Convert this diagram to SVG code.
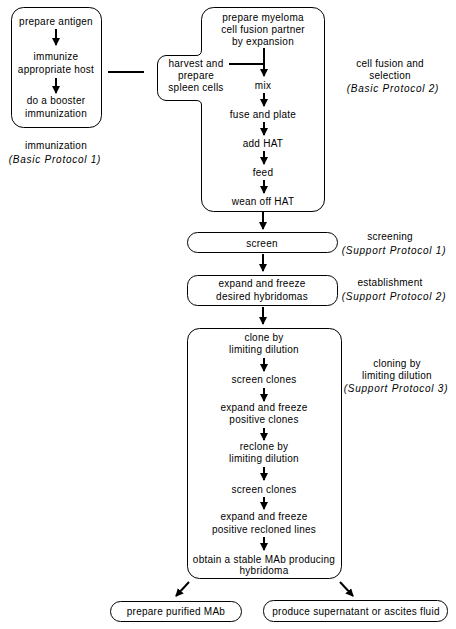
<svg xmlns="http://www.w3.org/2000/svg" width="456" height="629" viewBox="0 0 456 629">
<style>
.box{fill:none;stroke:#000;stroke-width:1}
.t{font-family:"Liberation Sans",Arial,sans-serif;font-size:10px;fill:#000;text-anchor:middle;letter-spacing:0.25px}
.i{font-family:"Liberation Sans",Arial,sans-serif;font-size:10px;fill:#000;text-anchor:middle;font-style:italic;letter-spacing:0.75px}
.c{fill:none;stroke:#000;stroke-width:2}
</style>
<defs>
<marker id="ah" viewBox="0 0 8 8" markerWidth="8" markerHeight="8" markerUnits="userSpaceOnUse" refX="7" refY="4" orient="auto">
<path d="M0,0 L8,4 L0,8 z" fill="#000"/>
</marker>
</defs>
<rect width="456" height="629" fill="#fff"/>

<g id="immunization">
<rect class="box" x="11.5" y="7.5" width="90" height="120" rx="12"/>
<text class="t" x="56" y="25">prepare antigen</text>
<text class="t" x="56" y="60">immunize</text>
<text class="t" x="56" y="73">appropriate host</text>
<text class="t" x="56" y="104">do a booster</text>
<text class="t" x="56" y="117">immunization</text>
</g>
<g id="immunization-label">
<text class="t" x="56" y="149">immunization</text>
<text class="i" x="55" y="163">(Basic Protocol 1)</text>
</g>

<g id="fusion">
<path class="box" d="M213.5,7.5 H312 A12,12 0 0 1 324.5,19.5 V199 A12,12 0 0 1 312,211.5 H213.5 A12,12 0 0 1 201.5,199 V105 Q201.5,100.5 196,100.5 H166 A9,9 0 0 1 157.5,91.5 V64 A9,9 0 0 1 166,55.5 H196 Q201.5,55.5 201.5,50 V19.5 A12,12 0 0 1 213.5,7.5 Z"/>
<text class="t" x="263" y="21">prepare myeloma</text>
<text class="t" x="263" y="33">cell fusion partner</text>
<text class="t" x="263" y="45">by expansion</text>
<text class="t" x="263" y="89">mix</text>
<text class="t" x="263" y="118">fuse  and plate</text>
<text class="t" x="263" y="147">add HAT</text>
<text class="t" x="263" y="176">feed</text>
<text class="t" x="263" y="205">wean off HAT</text>
</g>
<g id="spleen">
<text class="t" x="196" y="67">harvest and</text>
<text class="t" x="196" y="79">prepare</text>
<text class="t" x="196" y="91">spleen cells</text>
</g>
<g id="fusion-label">
<text class="t" x="390" y="67">cell fusion and</text>
<text class="t" x="390" y="79">selection</text>
<text class="i" x="393" y="92">(Basic Protocol 2)</text>
</g>

<g id="screen">
<rect class="box" x="187.5" y="232.5" width="150" height="20" rx="10"/>
<text class="t" x="262" y="247">screen</text>
</g>
<g id="screen-label">
<text class="t" x="390" y="240">screening</text>
<text class="i" x="394" y="254">(Support Protocol 1)</text>
</g>

<g id="establish">
<rect class="box" x="187.5" y="275.5" width="150" height="30" rx="10"/>
<text class="t" x="262" y="287">expand and freeze</text>
<text class="t" x="262" y="300">desired hybridomas</text>
</g>
<g id="establish-label">
<text class="t" x="390" y="286">establishment</text>
<text class="i" x="394" y="300">(Support Protocol 2)</text>
</g>

<g id="cloning">
<rect class="box" x="187.5" y="328.5" width="154" height="250" rx="12"/>
<text class="t" x="264" y="341">clone by</text>
<text class="t" x="264" y="353">limiting dilution</text>
<text class="t" x="264" y="383">screen clones</text>
<text class="t" x="264" y="411">expand and freeze</text>
<text class="t" x="264" y="423">positive clones</text>
<text class="t" x="264" y="450">reclone by</text>
<text class="t" x="264" y="462">limiting dilution</text>
<text class="t" x="264" y="493">screen clones</text>
<text class="t" x="264" y="520">expand and freeze</text>
<text class="t" x="264" y="533">positive recloned lines</text>
<text class="t" x="264" y="563">obtain a stable MAb producing</text>
<text class="t" x="264" y="574">hybridoma</text>
</g>
<g id="cloning-label">
<text class="t" x="397" y="367">cloning by</text>
<text class="t" x="397" y="379">limiting dilution</text>
<text class="i" x="396" y="392">(Support Protocol 3)</text>
</g>

<g id="purified">
<rect class="box" x="110.5" y="601.5" width="131" height="20" rx="10"/>
<text class="t" x="176" y="615">prepare purified MAb</text>
</g>
<g id="supernatant">
<rect class="box" x="263.5" y="600.5" width="184" height="21" rx="10"/>
<text class="t" x="356" y="615">produce supernatant or ascites fluid</text>
</g>

<g id="connectors">
<line class="c" x1="108" y1="72" x2="144" y2="72"/>
<line class="c" x1="56" y1="29" x2="56" y2="45" marker-end="url(#ah)"/>
<line class="c" x1="56" y1="78" x2="56" y2="93" marker-end="url(#ah)"/>
<line class="c" x1="229" y1="64" x2="264" y2="64"/>
<line class="c" x1="264" y1="48" x2="264" y2="76" marker-end="url(#ah)"/>
<line class="c" x1="264" y1="93" x2="264" y2="106" marker-end="url(#ah)"/>
<line class="c" x1="264" y1="122" x2="264" y2="135" marker-end="url(#ah)"/>
<line class="c" x1="264" y1="151" x2="264" y2="164" marker-end="url(#ah)"/>
<line class="c" x1="264" y1="180" x2="264" y2="193" marker-end="url(#ah)"/>
<line class="c" x1="263" y1="212" x2="263" y2="229" marker-end="url(#ah)"/>
<line class="c" x1="263" y1="254" x2="263" y2="271" marker-end="url(#ah)"/>
<line class="c" x1="263" y1="307" x2="263" y2="324" marker-end="url(#ah)"/>
<line class="c" x1="264" y1="358" x2="264" y2="371" marker-end="url(#ah)"/>
<line class="c" x1="264" y1="388" x2="264" y2="401" marker-end="url(#ah)"/>
<line class="c" x1="264" y1="428" x2="264" y2="440" marker-end="url(#ah)"/>
<line class="c" x1="264" y1="467" x2="264" y2="480" marker-end="url(#ah)"/>
<line class="c" x1="264" y1="497" x2="264" y2="509" marker-end="url(#ah)"/>
<line class="c" x1="264" y1="537" x2="264" y2="550" marker-end="url(#ah)"/>
<line class="c" x1="189" y1="582" x2="176" y2="596" marker-end="url(#ah)"/>
<line class="c" x1="340" y1="582" x2="353" y2="596" marker-end="url(#ah)"/>
</g>
</svg>
